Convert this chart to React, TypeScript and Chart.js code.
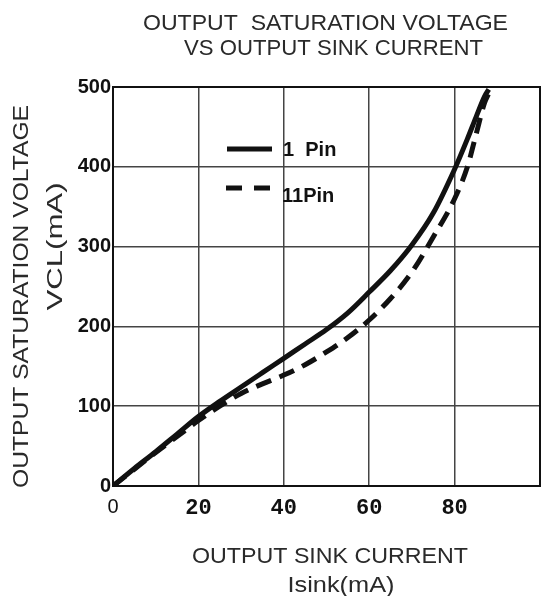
import React, { useEffect, useRef } from "react";
import { Chart, registerables } from "chart.js";

Chart.register(...registerables);

// ---- data ----
const pin1X = [0, 5, 10, 15, 20, 25, 30, 35, 40, 45, 50, 55, 60, 65, 70, 75, 80, 83, 85, 87, 88];
const pin1Y = [0, 22, 43, 65, 87, 106, 124, 142, 160, 178, 196, 217, 243, 270, 302, 342, 397, 435, 462, 488, 497];
const pin11X = [0, 5, 10, 15, 20, 25, 30, 35, 40, 45, 50, 55, 60, 65, 70, 75, 80, 83, 85, 87, 88];
const pin11Y = [0, 21, 42, 62, 82, 100, 116, 128, 139, 152, 168, 186, 208, 235, 268, 312, 360, 400, 440, 480, 492];
const seriesNames = ["1 Pin", "11Pin"];
const titleLines = ["OUTPUT  SATURATION VOLTAGE", "VS OUTPUT SINK CURRENT"];
const xTitleLines = ["OUTPUT SINK CURRENT", "Isink(mA)"];
const yTitleLines = ["OUTPUT SATURATION VOLTAGE", "VCL(mA)"];
const xTicks = [0, 20, 40, 60, 80, 100];
const xTickLabels = ["0", "20", "40", "60", "80", ""];
const yTicks = [0, 100, 200, 300, 400, 500];

function fitText(
  ctx: CanvasRenderingContext2D,
  text: string,
  cx: number,
  baseline: number,
  width: number,
  font: string,
  color: string,
  rotate = false
) {
  ctx.save();
  ctx.font = font;
  ctx.fillStyle = color;
  ctx.textBaseline = "alphabetic";
  ctx.textAlign = "center";
  const w = ctx.measureText(text).width;
  const sx = width / w;
  if (rotate) {
    ctx.translate(baseline, cx);
    ctx.rotate(-Math.PI / 2);
  } else {
    ctx.translate(cx, baseline);
  }
  ctx.scale(sx, 1);
  ctx.fillText(text, 0, 0);
  ctx.restore();
}

const decorPlugin = {
  id: "decor",
  afterDatasetsDraw(chart: any) {
    const ctx: CanvasRenderingContext2D = chart.ctx;
    const a = chart.chartArea;
    // frame
    ctx.save();
    ctx.strokeStyle = "#111";
    ctx.lineWidth = 2;
    ctx.strokeRect(a.left, a.top, a.right - a.left, a.bottom - a.top);
    ctx.restore();

    // legend
    ctx.save();
    ctx.strokeStyle = "#111";
    ctx.lineWidth = 5;
    ctx.beginPath();
    ctx.moveTo(227, 149);
    ctx.lineTo(272, 149);
    ctx.stroke();
    ctx.setLineDash([16, 12]);
    ctx.beginPath();
    ctx.moveTo(226, 188);
    ctx.lineTo(272, 188);
    ctx.stroke();
    ctx.restore();
    ctx.save();
    ctx.font = "bold 20px 'Liberation Sans', Arial, sans-serif";
    ctx.fillStyle = "#111";
    ctx.textBaseline = "alphabetic";
    ctx.textAlign = "left";
    ctx.fillText(seriesNames[0].replace(" ", "  "), 283, 156);
    ctx.fillText(seriesNames[1], 282, 202);
    ctx.restore();

    const tf = "22px 'Liberation Sans', Arial, sans-serif";
    const gray = "#2a2a2a";
    fitText(ctx, titleLines[0], 325.5, 30, 365, tf, gray);
    fitText(ctx, titleLines[1], 333.5, 55, 299, tf, gray);
    fitText(ctx, xTitleLines[0], 330, 563, 276, tf, gray);
    fitText(ctx, xTitleLines[1], 341, 592, 107, tf, gray);
    fitText(ctx, yTitleLines[0], 296.5, 28, 383, tf, gray, true);
    fitText(ctx, yTitleLines[1], 246.5, 62, 128, tf, gray, true);
  },
};

export default function App() {
  const ref = useRef<HTMLCanvasElement | null>(null);
  useEffect(() => {
    document.body.style.margin = "0";
    document.body.style.background = "#fff";
    const canvas = ref.current!;
    const chart = new Chart(canvas, {
      type: "line",
      data: {
        datasets: [
          {
            label: seriesNames[0],
            data: pin1X.map((x, i) => ({ x, y: pin1Y[i] })),
            borderColor: "#111",
            borderWidth: 5,
            pointRadius: 0,
            cubicInterpolationMode: "monotone",
            fill: false,
          },
          {
            label: seriesNames[1],
            data: pin11X.map((x, i) => ({ x, y: pin11Y[i] })),
            borderColor: "#111",
            borderWidth: 5,
            borderDash: [16, 9],
            pointRadius: 0,
            cubicInterpolationMode: "monotone",
            fill: false,
          },
        ],
      },
      options: {
        responsive: false,
        animation: false,
        events: [],
        layout: { padding: { top: 87, right: 1, left: 0, bottom: 0 } },
        plugins: { legend: { display: false }, title: { display: false }, tooltip: { enabled: false } },
        scales: {
          x: {
            type: "linear",
            min: 0,
            max: 100,
            afterFit: (s: any) => {
              s.height = 110;
            },
            afterBuildTicks: (s: any) => {
              s.ticks = xTicks.map((v) => ({ value: v }));
            },
            border: { display: false },
            grid: {
              drawTicks: false,
              lineWidth: 1.5,
              color: (c: any) =>
                c.tick && (c.tick.value === 0 || c.tick.value === 100) ? "rgba(0,0,0,0)" : "#444",
            },
            ticks: {
              padding: 9,
              maxRotation: 0,
              autoSkip: false,
              color: "#111",
              font: (c: any) =>
                c.tick && c.tick.value === 0
                  ? { family: "'Liberation Sans', Arial, sans-serif", size: 20, weight: "normal" }
                  : { family: "'Liberation Mono', monospace", size: 22, weight: "bold" },
              callback: (v: any) => xTickLabels[xTicks.indexOf(Number(v))] ?? "",
            },
          },
          y: {
            type: "linear",
            min: 0,
            max: 500,
            afterFit: (s: any) => {
              s.width = 113;
            },
            afterBuildTicks: (s: any) => {
              s.ticks = yTicks.map((v) => ({ value: v }));
            },
            border: { display: false },
            grid: {
              drawTicks: false,
              lineWidth: 1.5,
              color: (c: any) =>
                c.tick && (c.tick.value === 0 || c.tick.value === 500) ? "rgba(0,0,0,0)" : "#444",
            },
            ticks: {
              padding: 2,
              autoSkip: false,
              color: "#111",
              font: { family: "'Liberation Sans', Arial, sans-serif", size: 20, weight: "bold" },
            },
          },
        },
      },
      plugins: [decorPlugin],
    } as any);
    return () => chart.destroy();
  }, []);
  return <canvas ref={ref} width={549} height={596} style={{ display: "block" }} />;
}
